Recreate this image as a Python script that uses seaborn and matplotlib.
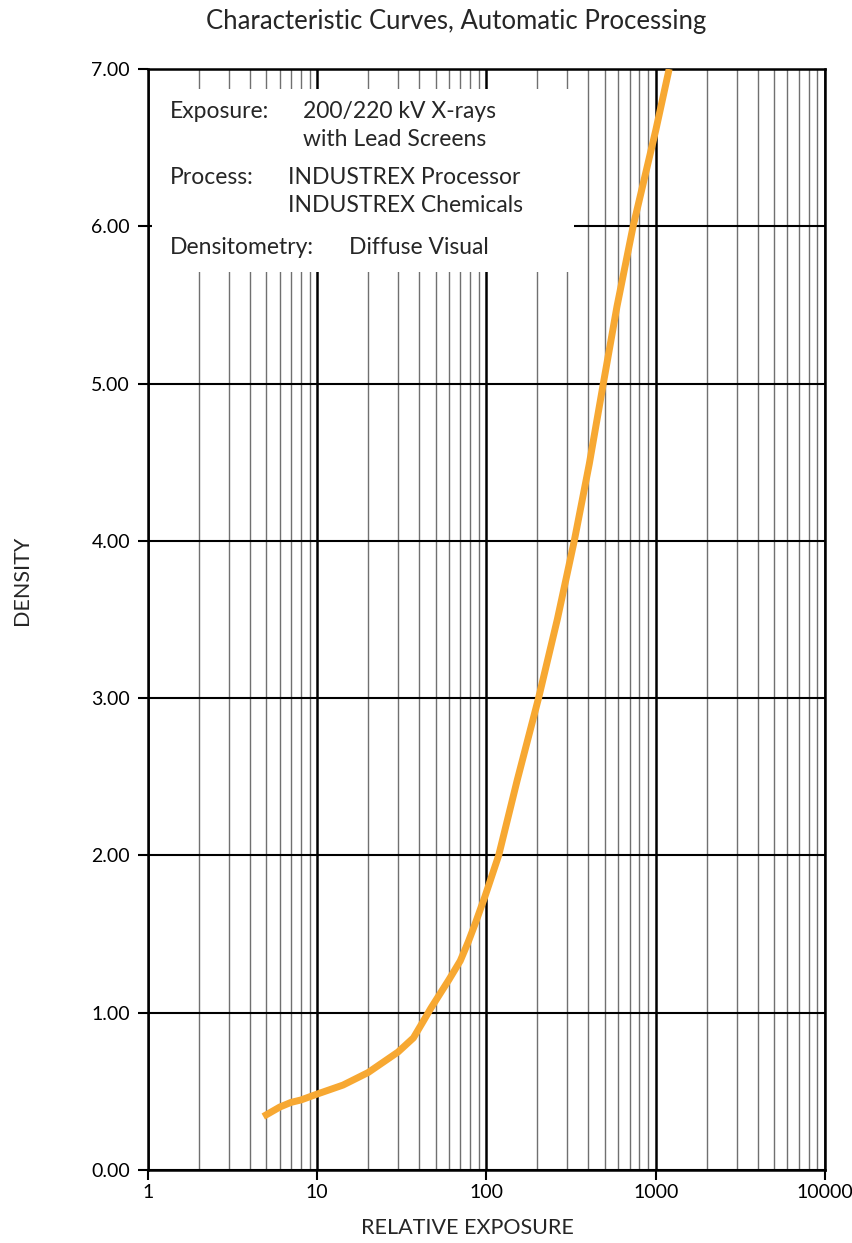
import matplotlib
matplotlib.use("Agg")
import matplotlib.pyplot as plt
import matplotlib.ticker as mticker
import seaborn as sns
import numpy as np
import pandas as pd
from matplotlib.patches import Rectangle

# values
exposure = [4.8, 6, 7, 8, 10, 14.2, 20, 30, 37, 42, 47, 60, 70, 78, 86, 98, 118,
            152, 203, 262, 330, 405, 490, 590, 735, 1000, 1200]
density = [0.34, 0.40, 0.43, 0.445, 0.483, 0.54, 0.62, 0.75, 0.84, 0.94, 1.03, 1.21,
           1.33, 1.45, 1.57, 1.74, 2.0, 2.48, 3.0, 3.5, 4.0, 4.49, 5.0, 5.49, 6.0,
           6.61, 7.0]

y_ticks = [0, 1, 2, 3, 4, 5, 6, 7]
x_ticks = [1, 10, 100, 1000, 10000]
x_ticklabels = ["1", "10", "100", "1000", "10000"]

info_labels = ["Exposure:", "Process:", "Densitometry:"]
info_values = [["200/220 kV X-rays", "with Lead Screens"],
               ["INDUSTREX Processor", "INDUSTREX Chemicals"],
               ["Diffuse Visual"]]

sns.set_theme(style="white")
plt.rcParams['font.family'] = ['Lato', 'DejaVu Sans']

df = pd.DataFrame({'exposure': exposure, 'density': density})

fig = plt.figure(figsize=(8.52, 12.43), dpi=100)
ax = fig.add_axes([148 / 852, 1 - 1170 / 1243, 677 / 852, 1101 / 1243])

ax.set_xscale('log')
ax.set_xlim(1, 10000)
ax.set_ylim(0, 7)
ax.set_axisbelow(True)

# grid: thin grey minor decades, black majors
ax.xaxis.set_minor_locator(mticker.LogLocator(base=10, subs=np.arange(2, 10)))
ax.xaxis.set_minor_formatter(mticker.NullFormatter())
ax.grid(which='minor', axis='x', color='#707070', linewidth=1.0)
ax.grid(which='major', axis='x', color='black', linewidth=1.8)
ax.grid(which='major', axis='y', color='black', linewidth=1.5)

sns.lineplot(data=df, x='exposure', y='density', ax=ax, color='#F7A832',
             linewidth=5, zorder=3, solid_capstyle='butt', solid_joinstyle='round')

ax.set_xticks(x_ticks)
ax.set_xticklabels(x_ticklabels)
ax.set_yticks(y_ticks)
ax.set_yticklabels([f"{v:.2f}" for v in y_ticks])
ax.tick_params(axis='both', which='major', direction='out', length=7, width=1.5,
               color='black', labelsize=14, labelcolor='black')
ax.tick_params(axis='x', which='major', pad=3, bottom=True)
ax.tick_params(axis='y', which='major', pad=6, left=True)
ax.tick_params(axis='x', which='minor', bottom=False, top=False)
ax.set_xlabel('')
ax.set_ylabel('')

for s in ax.spines.values():
    s.set_visible(True)
    s.set_color('black')
    s.set_linewidth(1.8)

# white info box covering the grid
ax.add_patch(Rectangle((0.006, 0.8156), 0.623, 0.1662, transform=ax.transAxes,
                       facecolor='white', edgecolor='none', zorder=1.5))


def fx(px):
    return px / 852


def fy(py):
    return 1 - py / 1243


info_size = 16.5
fig.text(fx(170), fy(112), info_labels[0], fontsize=info_size, va='center')
fig.text(fx(303), fy(112), info_values[0][0], fontsize=info_size, va='center')
fig.text(fx(303), fy(140), info_values[0][1], fontsize=info_size, va='center')
fig.text(fx(170), fy(177), info_labels[1], fontsize=info_size, va='center')
fig.text(fx(288), fy(177), info_values[1][0], fontsize=info_size, va='center')
fig.text(fx(288), fy(205), info_values[1][1], fontsize=info_size, va='center')
fig.text(fx(170), fy(247), info_labels[2], fontsize=info_size, va='center')
fig.text(fx(349), fy(247), info_values[2][0], fontsize=info_size, va='center')

fig.text(fx(456), fy(22), "Characteristic Curves, Automatic Processing", fontsize=18.5,
         ha='center', va='center')
fig.text(fx(467), fy(1228), "RELATIVE EXPOSURE", fontsize=15.5, ha='center', va='center')
fig.text(fx(22), fy(580), "DENSITY", fontsize=15.5, ha='center', va='center', rotation=90)

fig.savefig('out.png', dpi=100, facecolor='white')
